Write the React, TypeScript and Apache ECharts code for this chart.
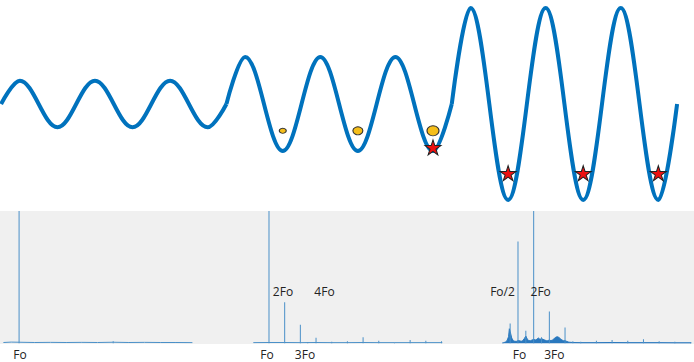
import React, { useEffect, useRef } from "react";
import * as echarts from "echarts";

// ---- Top waveform: extremes (x in cycles, y in amplitude units)
const wave1: number[][] = [[0, 0], [0.25, 1], [0.75, -1], [1.25, 1], [1.75, -1], [2.25, 1], [2.75, -1], [3, 0]];
const wave2: number[][] = [[3, 0], [3.25, 2.02], [3.75, -2.02], [4.25, 2.02], [4.75, -2.02], [5.25, 2.02], [5.75, -2.02], [6, 0]];
const wave3: number[][] = [[6, 0], [6.25, 4.12], [6.75, -4.12], [7.25, 4.12], [7.75, -4.12], [8.25, 4.12], [8.75, -4.12], [9, 0]];

// Yellow ellipses: [x, y, width, height]
const ellipses: number[][] = [[3.75, -1.15, 7, 5], [4.75, -1.15, 10, 8], [5.75, -1.15, 12, 10]];
// Red stars: [x, y]
const stars: number[][] = [[5.75, -1.86], [6.75, -2.97], [7.75, -2.97], [8.75, -2.97]];

// ---- Spectra (frequency in units of Fo, amplitude relative)
const spec1Peaks: number[][] = [[1, 1.0], [7, 0.015]];
const spec1Floor: number[][] = [[0, 0.006], [0.5, 0.009], [1, 0.008], [2, 0.006], [3, 0.007], [4, 0.006], [5, 0.007], [6, 0.006], [7, 0.008], [8, 0.006], [9, 0.007], [10, 0.006], [11, 0.006], [12.05, 0.005]];

const spec2Peaks: number[][] = [[1, 1.0], [2, 0.31], [3, 0.14], [3.47, 0.008], [4, 0.042], [5, 0.012], [6, 0.015], [7, 0.045], [8, 0.02], [9, 0.006], [10, 0.025], [11, 0.02], [12, 0.015]];
const spec2Floor: number[][] = [[0, 0.005], [1, 0.006], [2, 0.006], [3, 0.005], [4, 0.006], [5, 0.005], [6, 0.005], [7, 0.006], [8, 0.005], [9, 0.005], [10, 0.005], [11, 0.005], [12.05, 0.005]];

const spec3Peaks: number[][] = [[0.5, 0.15], [1, 0.77], [1.5, 0.095], [2, 1.0], [2.5, 0.045], [3, 0.24], [4, 0.12], [4.5, 0.015], [5, 0.012], [6, 0.02], [7, 0.025], [8, 0.02], [9, 0.03], [10, 0.015], [11, 0.012], [12, 0.01]];
const spec3Floor: number[][] = [
  [0, 0.003], [0.1, 0.005], [0.2, 0.01], [0.3, 0.02], [0.4, 0.05], [0.45, 0.11], [0.5, 0.09], [0.6, 0.04], [0.7, 0.02],
  [0.8, 0.015], [0.9, 0.015], [1.0, 0.02], [1.1, 0.02], [1.2, 0.015], [1.3, 0.02], [1.4, 0.035], [1.5, 0.055], [1.6, 0.03],
  [1.7, 0.02], [1.8, 0.02], [1.9, 0.025], [2.0, 0.03], [2.1, 0.025], [2.2, 0.03], [2.3, 0.04], [2.4, 0.03], [2.5, 0.035],
  [2.6, 0.03], [2.7, 0.025], [2.8, 0.02], [2.9, 0.02], [3.0, 0.025], [3.1, 0.02], [3.2, 0.025], [3.3, 0.035], [3.4, 0.045],
  [3.5, 0.05], [3.6, 0.045], [3.7, 0.035], [3.8, 0.025], [3.9, 0.02], [4.0, 0.02], [4.1, 0.015], [4.2, 0.01], [4.3, 0.008],
  [4.5, 0.006], [5, 0.005], [6, 0.005], [7, 0.006], [8, 0.005], [9, 0.005], [10, 0.005], [11, 0.004], [12.05, 0.004]
];

// Labels: [text, x(px), y(px)]
const labels: [string, number, number][] = [
  ["Fo", 20, 354.5],
  ["Fo", 267, 354.5], ["3Fo", 305, 354.5], ["2Fo", 283, 291], ["4Fo", 324.5, 291],
  ["Fo/2", 502.5, 291], ["2Fo", 540.7, 291], ["Fo", 519.5, 354.5], ["3Fo", 554.3, 354.5]
];

const WAVE_COLOR = "#0072BD";
const SPIKE_COLOR = "#4a90c8";
const FLOOR_COLOR = "#2a78be";
const STAR_PATH = "path://M50,0 L61,35 L98,35 L68,57 L79,91 L50,70 L21,91 L32,57 L2,35 L39,35 Z";

const SPEC_LEFTS = [3.4, 253.3, 502.3];
const SPEC_MAX = 12.05;
const SPEC_WIDTH = 189;
const PANEL_TOP = 211;
const PANEL_H = 133;
const BASE_Y = 343.3;

export default function App() {
  const ref = useRef<HTMLDivElement>(null);
  useEffect(() => {
    document.body.style.margin = "0";
    if (!ref.current) return;
    const chart = echarts.init(ref.current, undefined, { renderer: "svg" });

    const grids: any[] = [{ left: 1.1, top: 1.5, width: 676, height: 205 }];
    const xAxes: any[] = [{ type: "value", min: 0, max: 9, show: false, gridIndex: 0 }];
    const yAxes: any[] = [{ type: "value", min: -4.4, max: 4.4, show: false, gridIndex: 0 }];
    SPEC_LEFTS.forEach((l, i) => {
      grids.push({ left: l, top: PANEL_TOP, width: SPEC_WIDTH, height: BASE_Y - PANEL_TOP });
      xAxes.push({ type: "value", min: 0, max: SPEC_MAX, show: false, gridIndex: i + 1 });
      yAxes.push({ type: "value", min: 0, max: 1, show: false, gridIndex: i + 1 });
    });

    const waveSeries = [wave1, wave2, wave3].map((d) => ({
      type: "line",
      data: d,
      xAxisIndex: 0,
      yAxisIndex: 0,
      symbol: "none",
      smooth: 0.36,
      smoothMonotone: "x",
      clip: false,
      lineStyle: { color: WAVE_COLOR, width: 4 },
      z: 2,
    }));

    const specSeries: any[] = [];
    const peaks = [spec1Peaks, spec2Peaks, spec3Peaks];
    const floors = [spec1Floor, spec2Floor, spec3Floor];
    peaks.forEach((p, i) => {
      specSeries.push({
        type: "line",
        data: floors[i],
        xAxisIndex: i + 1,
        yAxisIndex: i + 1,
        symbol: "none",
        lineStyle: { color: i === 2 ? FLOOR_COLOR : SPIKE_COLOR, width: 1 },
        areaStyle: i === 2 ? { color: FLOOR_COLOR, opacity: 1 } : undefined,
        z: 3,
      });
      specSeries.push({
        type: "bar",
        data: p,
        xAxisIndex: i + 1,
        yAxisIndex: i + 1,
        barWidth: 1,
        itemStyle: { color: SPIKE_COLOR },
        z: 4,
      });
    });

    chart.setOption({
      animation: false,
      grid: grids,
      xAxis: xAxes,
      yAxis: yAxes,
      graphic: [
        {
          type: "rect",
          z: -10,
          silent: true,
          shape: { x: 0, y: PANEL_TOP, width: 694, height: PANEL_H },
          style: { fill: "#f0f0f0" },
        },
        ...labels.map(([t, x, y]) => ({
          type: "text",
          x,
          y,
          z: 10,
          style: {
            text: t,
            font: '12px "Open Sans", sans-serif',
            lineHeight: 12,
            fill: "#222",
            align: "center",
            verticalAlign: "middle",
          },
        })),
      ],
      series: [
        ...waveSeries,
        {
          type: "scatter",
          xAxisIndex: 0,
          yAxisIndex: 0,
          data: ellipses.map((e) => ({ value: [e[0], e[1]], symbolSize: [e[2], e[3]] })),
          symbol: "circle",
          itemStyle: { color: "#f5be1a", borderColor: "#333", borderWidth: 1, opacity: 1 },
          z: 5,
        },
        {
          type: "scatter",
          xAxisIndex: 0,
          yAxisIndex: 0,
          data: stars,
          symbol: STAR_PATH,
          symbolSize: [16, 15],
          itemStyle: { color: "#ee1111", borderColor: "#222", borderWidth: 1, opacity: 1 },
          z: 6,
        },
        ...specSeries,
      ],
    });
    return () => chart.dispose();
  }, []);
  return <div ref={ref} style={{ width: 694, height: 362 }} />;
}
